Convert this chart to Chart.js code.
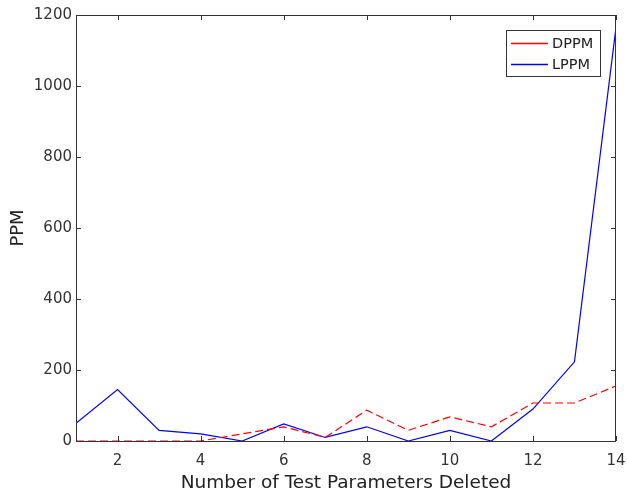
<!DOCTYPE html>
<html lang="en">
  <head>
    <meta charset="UTF-8" />
    <title>PPM vs parameters deleted</title>
    <script src="https://cdn.jsdelivr.net/npm/chart.js"></script>
    <style>
      html, body { margin: 0; padding: 0; background: #fff; }
      #wrap { width: 627px; height: 494px; }
    </style>
  </head>
  <body>
    <div id="wrap"><canvas id="ppmChart" width="627" height="494"></canvas></div>

    <script>
      // data
      const deleted = [1, 2, 3, 4, 5, 6, 7, 8, 9, 10, 11, 12, 13, 14];
      const dppm = [0, 0, 0, 0, 20, 40, 10, 87, 30, 68, 40, 107, 107, 155];
      const lppm = [50, 145, 30, 20, 0, 48, 10, 40, 0, 30, 0, 90, 223, 1165];
      const xTicks = [2, 4, 6, 8, 10, 12, 14];
      const yTicks = [0, 200, 400, 600, 800, 1000, 1200];

      const toPts = (ys) => deleted.map((x, i) => ({ x: x, y: ys[i] }));

      // box round the plot, ticks pointing inwards, legend in the corner
      const framePlugin = {
        id: "frame",
        afterDraw(chart) {
          const { ctx, chartArea: a, scales } = chart;
          ctx.save();
          ctx.strokeStyle = "#333";
          ctx.lineWidth = 1;
          ctx.strokeRect(a.left + 0.5, a.top + 0.5, a.right - a.left - 1, a.bottom - a.top);
          ctx.beginPath();
          xTicks.forEach((v) => {
            const px = Math.round(scales.x.getPixelForValue(v)) + 0.5;
            ctx.moveTo(px, a.bottom); ctx.lineTo(px, a.bottom - 5);
            ctx.moveTo(px, a.top); ctx.lineTo(px, a.top + 5);
          });
          yTicks.forEach((v) => {
            const py = Math.round(scales.y.getPixelForValue(v)) + 0.5;
            ctx.moveTo(a.left, py); ctx.lineTo(a.left + 5, py);
            ctx.moveTo(a.right, py); ctx.lineTo(a.right - 5, py);
          });
          ctx.stroke();

          // legend
          const lx = 506, ly = 30, lw = 94, lh = 46;
          ctx.fillStyle = "#fff";
          ctx.fillRect(lx, ly, lw, lh);
          ctx.strokeStyle = "#333";
          ctx.strokeRect(lx + 0.5, ly + 0.5, lw, lh);
          ctx.font = "14.5px 'DejaVu Sans'";
          ctx.textBaseline = "middle";
          chart.data.datasets.forEach((ds, i) => {
            const y = ly + 13 + i * 21;
            ctx.strokeStyle = ds.borderColor;
            ctx.lineWidth = 1.3;
            ctx.beginPath();
            ctx.moveTo(lx + 5, y + 0.5); ctx.lineTo(lx + 42, y + 0.5);
            ctx.stroke();
            ctx.fillStyle = "#222";
            ctx.fillText(ds.label, lx + 46, y + 1);
          });
          ctx.restore();
        },
      };

      const ctx = document.getElementById("ppmChart").getContext("2d");
      const ppmChart = new Chart(ctx, {
        type: "line",
        data: {
          datasets: [
            {
              label: "DPPM",
              data: toPts(dppm),
              borderColor: "#ff0000",
              borderWidth: 1.2,
              borderDash: [8, 4],
              pointRadius: 0,
              tension: 0,
            },
            {
              label: "LPPM",
              data: toPts(lppm),
              borderColor: "#0000ff",
              borderWidth: 1.2,
              pointRadius: 0,
              tension: 0,
            },
          ],
        },
        options: {
          responsive: false,
          animation: false,
          layout: { padding: { left: 0, right: 11, top: 15, bottom: 0 } },
          plugins: {
            legend: { display: false },
            tooltip: { enabled: false },
          },
          scales: {
            x: {
              type: "linear",
              min: 1,
              max: 14,
              afterBuildTicks: (s) => { s.ticks = xTicks.map((v) => ({ value: v })); },
              afterFit: (s) => {
                s.height = 53;
                s.paddingLeft = 0;
                s.paddingRight = 0;
              },
              grid: { display: false, tickLength: 0 },
              border: { display: false },
              ticks: {
                color: "#333",
                font: { family: "DejaVu Sans", size: 15 },
                padding: 11,
                maxRotation: 0,
              },
              title: {
                display: true,
                text: "Number of Test Parameters Deleted",
                color: "#222",
                font: { family: "DejaVu Sans", size: 18.5 },
                padding: { top: 2, bottom: 0 },
              },
            },
            y: {
              min: 0,
              max: 1200,
              afterBuildTicks: (s) => { s.ticks = yTicks.map((v) => ({ value: v })); },
              afterFit: (s) => {
                s.width = 76;
                s.paddingTop = 0;
                s.paddingBottom = 0;
              },
              grid: { display: false, tickLength: 0 },
              border: { display: false },
              ticks: {
                color: "#333",
                font: { family: "DejaVu Sans", size: 15 },
                padding: 4,
                callback: (v) => String(v),
              },
              title: {
                display: true,
                text: "PPM",
                color: "#222",
                font: { family: "DejaVu Sans", size: 18 },
                padding: { top: 8, bottom: 0 },
              },
            },
          },
        },
        plugins: [framePlugin],
      });
    </script>
  </body>
</html>
